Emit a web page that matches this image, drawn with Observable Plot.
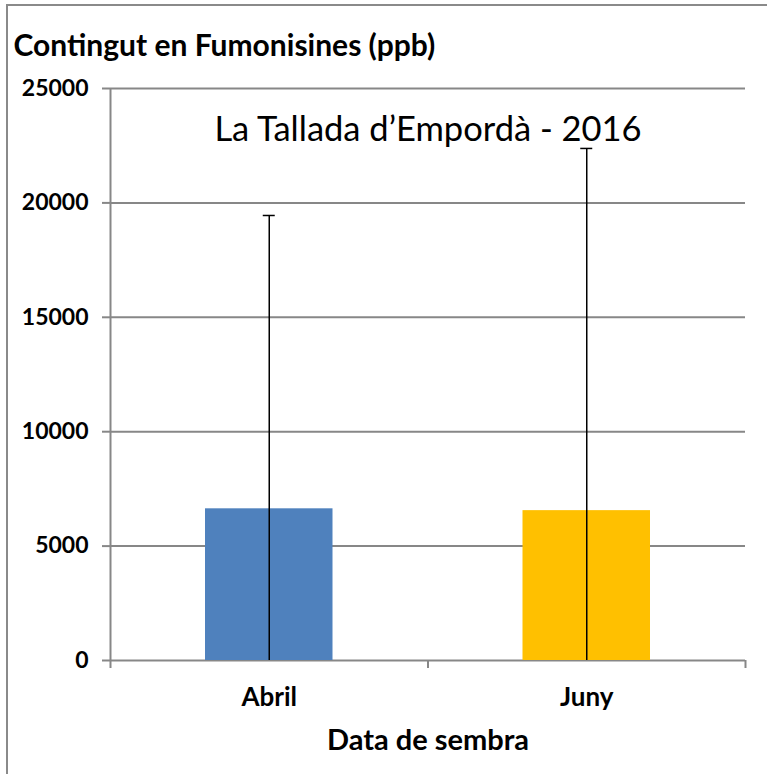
<!DOCTYPE html>
<html><head><meta charset="utf-8">
<script src="https://cdn.jsdelivr.net/npm/d3@7"></script>
<script src="https://cdn.jsdelivr.net/npm/@observablehq/plot@0.6"></script>
<style>
html,body{margin:0;padding:0;background:#fff;overflow:hidden}
#wrap{position:relative;width:767px;height:774px;overflow:hidden}
#border{position:absolute;left:6px;top:4px;width:800px;height:800px;border:2px solid #8a8a8a;pointer-events:none}
#wrap svg{position:absolute;left:0;top:0}
</style></head><body><div id="wrap"><div id="border"></div></div>
<script>
const categories = ["Abril", "Juny"];
const values = [6630, 6550];
const errorUpper = [19450, 22380];
const colors = ["#4F81BD", "#FFC000"];
const yTicks = [0, 5000, 10000, 15000, 20000, 25000];
const yTitle = "Contingut en Fumonisines (ppb)";
const xTitle = "Data de sembra";
const chartTitle = "La Tallada d\u2019Empord\u00e0 - 2016";

const data = categories.map((c, i) => ({cat: c, i, value: values[i], upper: errorUpper[i], color: colors[i]}));
const font = "Lato, 'Open Sans', sans-serif";
const grid = "#878787";

const plot = Plot.plot({
  width: 767, height: 774,
  marginLeft: 110, marginRight: 22, marginTop: 88, marginBottom: 114,
  style: {fontFamily: font, background: "transparent", overflow: "visible", color: "#000"},
  x: {domain: [0, categories.length], axis: null},
  y: {domain: [0, 25000], axis: null},
  color: {type: "identity"},
  marks: [
    Plot.ruleY(yTicks, {stroke: grid, strokeWidth: 2}),
    Plot.ruleX([0], {stroke: grid, strokeWidth: 2}),
    Plot.axisY(yTicks, {tickSize: 8, tickPadding: 14, tickFormat: d => String(d), fontSize: 23, fontWeight: "bold", stroke: grid, strokeWidth: 2, fill: "#000", label: null}),
    Plot.axisX(d3.range(categories.length + 1), {tickSize: 8, tickFormat: () => "", stroke: grid, strokeWidth: 2, label: null}),
    Plot.rectY(data, {x1: "i", x2: d => d.i + 1, y: "value", fill: d => d.color, insetLeft: 95, insetRight: 95}),
    Plot.ruleX(data, {x: d => d.i + 0.5, y1: 0, y2: "upper", stroke: "#000", strokeWidth: 1.5}),
    Plot.ruleY(data, {y: "upper", x1: "i", x2: d => d.i + 1, insetLeft: 152.75, insetRight: 152.75, stroke: "#000", strokeWidth: 1.5}),
    Plot.text(data, {x: d => d.i + 0.5, y: 0, text: "cat", dy: 37, fontWeight: "bold", fontSize: 26, fill: "#000"}),
    Plot.text([chartTitle], {frameAnchor: "top", dy: 28, fontSize: 34.5, fill: "#000"}),
    Plot.text([yTitle], {frameAnchor: "top-left", dx: -97, dy: -54, textAnchor: "start", fontWeight: "bold", fontSize: 30, fill: "#000"}),
    Plot.text([xTitle], {frameAnchor: "bottom", dy: 89, fontWeight: "bold", fontSize: 29, fill: "#000"})
  ]
});
document.getElementById("wrap").appendChild(plot);
</script>
</body></html>
